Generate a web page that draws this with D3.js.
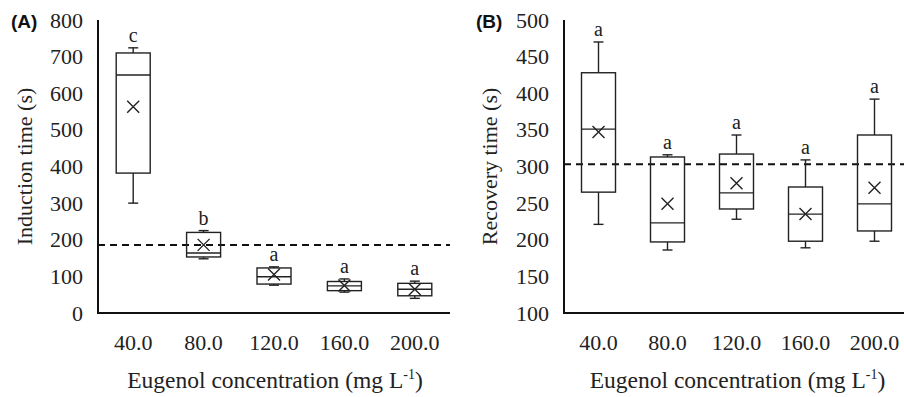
<!DOCTYPE html>
<html><head><meta charset="utf-8">
<script src="https://cdn.jsdelivr.net/npm/d3@7"></script>
<style>body{margin:0;background:#fff}svg{display:block}
.serif{font-family:"Liberation Serif","Times New Roman","DejaVu Serif",serif;}
</style>
</head><body>
<svg id="chart" width="904" height="397"></svg>
<script>
const categories = ["40.0","80.0","120.0","160.0","200.0"];
// Induction time (s)
const indMin  = [300,148,76,57,40];
const indQ1   = [382,153,79,61,47];
const indMed  = [650,164,99,74,65];
const indQ3   = [710,220,123,86,81];
const indMax  = [724,225,126,93,87];
const indMean = [563,186,105,75,65];
const indLetters = ["c","b","a","a","a"];
const indRef = 186;
const indTicks = [0,100,200,300,400,500,600,700,800];
// Recovery time (s)
const recMin  = [221,186,228,189,198];
const recQ1   = [265,197,242,198,212];
const recMed  = [351,223,264,235,249];
const recQ3   = [428,313,317,272,343];
const recMax  = [470,316,343,309,392];
const recMean = [347,249,277,235,271];
const recLetters = ["a","a","a","a","a"];
const recRef = 303;
const recTicks = [100,150,200,250,300,350,400,450,500];

const svg = d3.select("#chart");

function panel(opt){
  const g = svg.append("g");
  const x = d3.scaleBand().domain(categories).range([opt.x0, opt.x1]);
  const y = d3.scaleLinear().domain(opt.domain).range([opt.yBottom, opt.yTop]);
  const data = categories.map((c,i)=>({c, min:opt.min[i], q1:opt.q1[i], med:opt.med[i], q3:opt.q3[i], max:opt.max[i], mean:opt.mean[i], letter:opt.letters[i]}));

  const ya = g.append("g").attr("transform",`translate(${opt.x0},0)`)
    .call(d3.axisLeft(y).tickValues(opt.ticks).tickSize(0).tickPadding(15));
  ya.select(".domain").remove();
  ya.attr("font-family",null);
  ya.selectAll("text").attr("class","serif").style("font-size","22px").attr("fill","#222");
  const xa = g.append("g").attr("transform",`translate(0,${opt.yBottom})`)
    .call(d3.axisBottom(x).tickSize(0).tickPadding(21));
  xa.select(".domain").remove();
  xa.attr("font-family",null);
  xa.selectAll("text").attr("class","serif").style("font-size","22px").attr("fill","#222");

  g.append("line").attr("x1",opt.x0).attr("x2",opt.x1)
    .attr("y1",y(opt.ref)).attr("y2",y(opt.ref))
    .attr("stroke","#111").attr("stroke-width",2).attr("stroke-dasharray","7,5");

  const bw = 34, cap = 10;
  const b = g.selectAll("g.box").data(data).join("g").attr("class","box")
    .attr("transform",d=>`translate(${x(d.c)+x.bandwidth()/2},0)`);
  function L(sel){ return sel.attr("stroke","#222").attr("stroke-width",1.4).attr("fill","none"); }
  L(b.append("line").attr("x1",0).attr("x2",0).attr("y1",d=>y(d.max)).attr("y2",d=>y(d.q3)));
  L(b.append("line").attr("x1",0).attr("x2",0).attr("y1",d=>y(d.min)).attr("y2",d=>y(d.q1)));
  L(b.append("line").attr("x1",-cap/2).attr("x2",cap/2).attr("y1",d=>y(d.max)).attr("y2",d=>y(d.max)));
  L(b.append("line").attr("x1",-cap/2).attr("x2",cap/2).attr("y1",d=>y(d.min)).attr("y2",d=>y(d.min)));
  L(b.append("rect").attr("x",-bw/2).attr("width",bw).attr("y",d=>y(d.q3)).attr("height",d=>y(d.q1)-y(d.q3)));
  L(b.append("line").attr("x1",-bw/2).attr("x2",bw/2).attr("y1",d=>y(d.med)).attr("y2",d=>y(d.med)));
  const m = 6;
  L(b.append("path").attr("d",d=>{const yy=y(d.mean);return `M${-m},${yy-m}L${m},${yy+m}M${m},${yy-m}L${-m},${yy+m}`;}));
  b.append("text").attr("x",0).attr("y",d=>y(d.max)-6).attr("text-anchor","middle")
    .attr("class","serif").style("font-size","20px").attr("fill","#222").text(d=>d.letter);

  g.append("line").attr("x1",opt.x0).attr("x2",opt.x0).attr("y1",opt.yTop).attr("y2",opt.yBottom+1)
    .attr("stroke","#111").attr("stroke-width",2);
  g.append("line").attr("x1",opt.x0-1).attr("x2",opt.x1).attr("y1",opt.yBottom).attr("y2",opt.yBottom)
    .attr("stroke","#111").attr("stroke-width",2.2);

  const xt = g.append("text").attr("x",(opt.x0+opt.x1)/2 + 1).attr("y",388).attr("text-anchor","middle")
    .attr("class","serif").style("font-size","23.5px").attr("fill","#222");
  xt.append("tspan").text("Eugenol concentration (mg L");
  xt.append("tspan").attr("dy",-9).style("font-size","14px").text("-1");
  xt.append("tspan").attr("dy",9).text(")");
  g.append("text").attr("transform",`translate(${opt.titleX},${(opt.yTop+opt.yBottom)/2}) rotate(-90)`)
    .attr("text-anchor","middle").attr("dy","0.35em")
    .attr("class","serif").style("font-size","22px").attr("fill","#222").text(opt.ytitle);
  g.append("text").attr("x",opt.labelX).attr("y",28)
    .style("font-family","'Liberation Sans','DejaVu Sans',sans-serif")
    .attr("font-weight","bold").style("font-size","19px").attr("fill","#111").text(opt.label);
  return g;
}

panel({x0:98,x1:450,yTop:20,yBottom:313,domain:[0,800],ticks:indTicks,
  min:indMin,q1:indQ1,med:indMed,q3:indQ3,max:indMax,mean:indMean,letters:indLetters,ref:indRef,
  ytitle:"Induction time (s)",titleX:24,label:"(A)",labelX:11});
panel({x0:564,x1:909,yTop:20,yBottom:313,domain:[100,500],ticks:recTicks,
  min:recMin,q1:recQ1,med:recMed,q3:recQ3,max:recMax,mean:recMean,letters:recLetters,ref:recRef,
  ytitle:"Recovery time (s)",titleX:489,label:"(B)",labelX:476});
</script>
</body></html>
